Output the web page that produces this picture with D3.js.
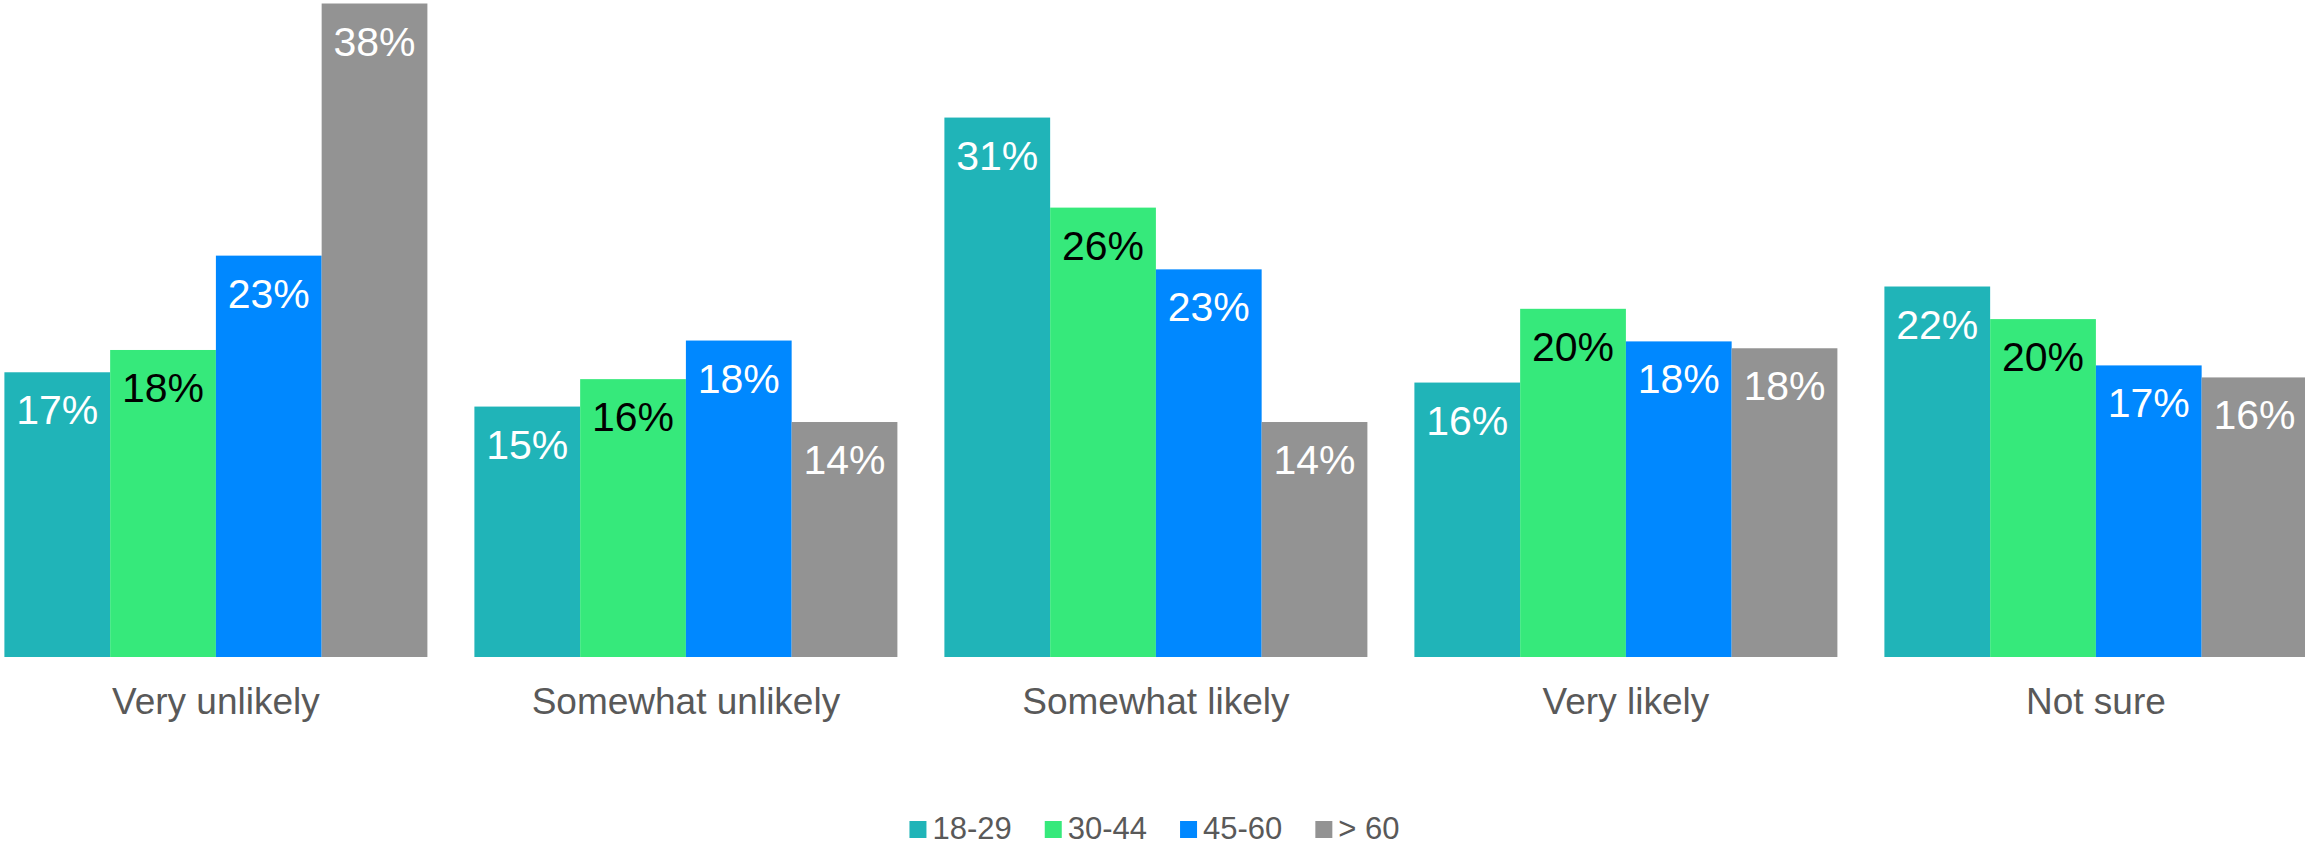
<!DOCTYPE html>
<html>
<head>
<meta charset="utf-8">
<script src="https://cdn.jsdelivr.net/npm/d3@7"></script>
<style>
  body { margin: 0; background: #fff; }
  svg { display: block; font-family: "Liberation Sans", Arial, sans-serif; }
</style>
</head>
<body>
<figure style="margin:0"></figure>
<script>
// answers to the question, one group per answer
const categories = ["Very unlikely", "Somewhat unlikely", "Somewhat likely", "Very likely", "Not sure"]
// age groups
const series = ["18-29", "30-44", "45-60", "> 60"]
// percent per age group, in the order of categories
const age18to29 = [16.6, 14.6, 31.45, 16.0, 21.6]
const age30to44 = [17.9, 16.2, 26.2, 20.3, 19.7]
const age45to60 = [23.4, 18.45, 22.6, 18.4, 17.0]
const age60plus = [38.1, 13.7, 13.7, 18.0, 16.3]

const colors = ["#20b4b8", "#36e97b", "#0088ff", "#939393"]
const labelColors = ["#ffffff", "#000000", "#ffffff", "#ffffff"]

const values = [age18to29, age30to44, age45to60, age60plus]
const rows = categories.map((c, i) => ({
  category: c,
  bars: series.map((s, j) => ({ key: s, idx: j, value: values[j][i] }))
}))

const W = 2305, H = 846
const baseline = 657

const svg = d3.select("figure").append("svg")
    .attr("width", W)
    .attr("height", H)

const x0 = d3.scaleBand()
    .domain(categories)
    .range([-19.1, 2330.9])
    .paddingInner(0.1)
    .paddingOuter(0.05)

const x1 = d3.scaleBand()
    .domain(series)
    .range([0, x0.bandwidth()])

const y = d3.scaleLinear()
    .domain([0, 38.1])
    .range([baseline, 3.5])

const groups = svg.append("g")
  .selectAll("g")
  .data(rows)
  .join("g")
    .attr("transform", d => "translate(" + x0(d.category) + ",0)")

groups.selectAll("rect")
  .data(d => d.bars)
  .join("rect")
    .attr("x", d => x1(d.key))
    .attr("y", d => y(d.value))
    .attr("width", x1.bandwidth())
    .attr("height", d => baseline - y(d.value))
    .attr("fill", d => colors[d.idx])

groups.selectAll("text")
  .data(d => d.bars)
  .join("text")
    .attr("x", d => x1(d.key) + x1.bandwidth() / 2)
    .attr("y", d => y(d.value) + 52)
    .attr("text-anchor", "middle")
    .attr("font-size", 41)
    .attr("fill", d => labelColors[d.idx])
    .text(d => Math.round(d.value) + "%")

// category axis, no line, no ticks
const xAxis = svg.append("g")
    .attr("transform", "translate(0," + baseline + ")")
    .call(d3.axisBottom(x0).tickSize(0).tickPadding(31))
xAxis.select(".domain").remove()
xAxis.selectAll("text")
    .attr("font-size", 37)
    .attr("font-family", "\"Liberation Sans\", Arial, sans-serif")
    .attr("fill", "#595959")

// legend
const legend = svg.append("g")
const items = legend.selectAll("g")
  .data(series)
  .join("g")
items.append("rect")
    .attr("y", 821)
    .attr("width", 17)
    .attr("height", 17)
    .attr("fill", (d, i) => colors[i])
items.append("text")
    .attr("x", 23)
    .attr("y", 839)
    .attr("font-size", 31)
    .attr("fill", "#595959")
    .text(d => d)

let pos = 0
items.each(function() {
  d3.select(this).attr("transform", "translate(" + pos + ",0)")
  pos += 23 + d3.select(this).select("text").node().getComputedTextLength() + 33
})
const total = pos - 33
legend.attr("transform", "translate(" + (W / 2 + 2 - total / 2) + ",0)")
</script>
</body>
</html>
